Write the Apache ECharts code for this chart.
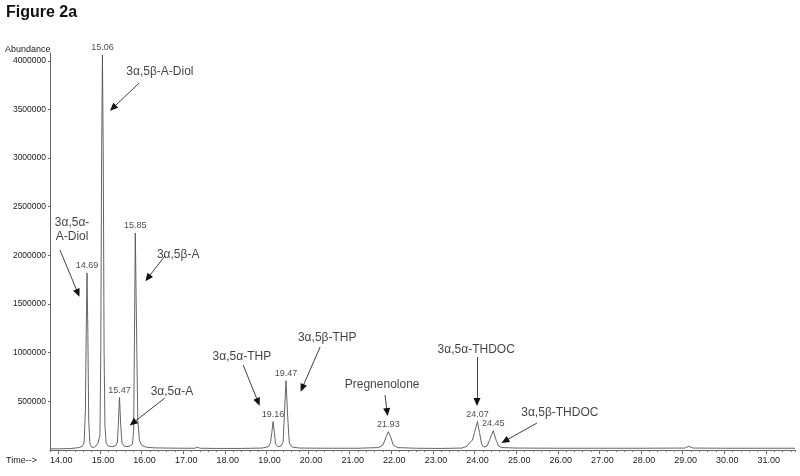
<!DOCTYPE html>
<html lang="en">
  <head>
    <meta charset="UTF-8" />
    <title>Figure 2a</title>
    <script src="https://cdn.jsdelivr.net/npm/echarts@6/dist/echarts.min.js"></script>
    <style>
      html,
      body,
      #chart {
        width: 100%;
        height: 100%;
        margin: 0;
        padding: 0;
        overflow: hidden;
        background: #fff;
      }
    </style>
  </head>
  <body>
    <div id="chart"></div>
    <script>
      // chromatogram trace (time in min, abundance)
      const traceTime = [
        13.8, 14.0, 14.3, 14.5, 14.58, 14.62, 14.65, 14.67, 14.69, 14.71,
        14.73, 14.76, 14.8, 14.85, 14.9, 14.95, 14.98, 15.0, 15.02, 15.04,
        15.06, 15.08, 15.1, 15.12, 15.15, 15.2, 15.3, 15.38, 15.42, 15.44,
        15.47, 15.5, 15.53, 15.58, 15.65, 15.72, 15.78, 15.81, 15.83, 15.85,
        15.87, 15.89, 15.91, 15.95, 16.0, 16.1, 16.3, 16.6, 17.0, 17.28,
        17.34, 17.4, 17.8, 18.4, 18.9, 19.05, 19.1, 19.13, 19.16, 19.19,
        19.22, 19.28, 19.35, 19.4, 19.43, 19.47, 19.51, 19.55, 19.62, 19.8,
        20.5, 21.2, 21.7, 21.8, 21.88, 21.93, 21.98, 22.05, 22.15, 22.6,
        23.2, 23.7, 23.82, 23.9, 23.95, 24.0, 24.07, 24.12, 24.17, 24.22,
        24.3, 24.36, 24.45, 24.52, 24.58, 24.65, 25.0, 26.0, 27.0, 28.0,
        29.05, 29.15, 29.25, 30.0, 31.0, 31.7
      ];
      const traceAbundance = [
        12000, 12000, 15000, 25000, 40000, 80000, 400000, 1200000, 1820000, 1200000,
        300000, 60000, 30000, 25000, 40000, 70000, 85000, 150000, 1000000, 3000000,
        4060000, 3000000, 1000000, 250000, 70000, 40000, 35000, 45000, 80000, 250000,
        540000, 250000, 70000, 40000, 35000, 40000, 60000, 200000, 1200000, 2230000,
        1550000, 900000, 300000, 100000, 50000, 30000, 22000, 20000, 18000, 18000,
        30000, 18000, 16000, 16000, 20000, 35000, 80000, 180000, 291000, 180000,
        60000, 35000, 40000, 80000, 350000, 713000, 350000, 70000, 30000, 20000,
        18000, 18000, 25000, 50000, 140000, 188000, 140000, 50000, 25000, 18000,
        16000, 20000, 40000, 85000, 100000, 180000, 291000, 180000, 60000, 30000,
        40000, 100000, 198000, 100000, 40000, 25000, 20000, 18000, 18000, 18000,
        20000, 38000, 20000, 18000, 18000, 18000
      ];

      // labelled peaks (retention time, apex height)
      const peakTimes = [14.69, 15.06, 15.47, 15.85, 19.16, 19.47, 21.93, 24.07, 24.45];
      const peakHeights = [1820000, 4060000, 540000, 2230000, 291000, 713000, 188000, 291000, 198000];

      // compound names and where their arrows point
      const compoundNames = [
        "3\u03b1,5\u03b2-A-Diol",
        "3\u03b1,5\u03b1-\nA-Diol",
        "3\u03b1,5\u03b2-A",
        "3\u03b1,5\u03b1-A",
        "3\u03b1,5\u03b1-THP",
        "3\u03b1,5\u03b2-THP",
        "Pregnenolone",
        "3\u03b1,5\u03b1-THDOC",
        "3\u03b1,5\u03b2-THDOC"
      ];

      const xTicks = [14, 15, 16, 17, 18, 19, 20, 21, 22, 23, 24, 25, 26, 27, 28, 29, 30, 31];
      const yTicks = [500000, 1000000, 1500000, 2000000, 2500000, 3000000, 3500000, 4000000];

      // annotation placement in data space: text centre, arrow start, arrow tip
      const notePlace = [
        { at: [16.44, 3884000], from: [15.94, 3770000], to: [15.31, 3515000] },
        { at: [14.33, 2260000], from: [14.04, 2055000], to: [14.47, 1613000] },
        { at: [16.88, 2004000], from: [16.56, 1994000], to: [16.15, 1768000] },
        { at: [16.73, 596000], from: [16.56, 534000], to: [15.79, 277000] },
        { at: [18.41, 956000], from: [18.44, 874000], to: [18.8, 493000] },
        { at: [20.46, 1151000], from: [20.29, 1059000], to: [19.86, 637000] },
        { at: [21.78, 668000], from: [21.85, 565000], to: [21.9, 390000] },
        { at: [24.04, 1028000], from: [24.06, 956000], to: [24.06, 493000] },
        { at: [26.05, 380000], from: [25.5, 277000], to: [24.73, 92500] }
      ];

      const trace = traceTime.map((t, i) => [t, traceAbundance[i]]);
      const peaks = peakTimes.map((t, i) => [t, peakHeights[i]]);
      const notes = compoundNames.map((name, i) => [notePlace[i].at[0], notePlace[i].at[1], name]);
      const arrows = notePlace.map((p) => [{ coord: p.from }, { coord: p.to }]);

      const ink = "#1a1a1a";
      const font = "Liberation Sans, Arial, sans-serif";

      const chart = echarts.init(document.getElementById("chart"));
      chart.setOption({
        animation: false,
        backgroundColor: "#fff",
        textStyle: { fontFamily: font },
        grid: { left: 50, right: 5, top: 53, bottom: 26 },
        graphic: [
          {
            type: "text",
            left: 6,
            top: 5,
            style: { text: "Figure 2a", font: "bold 16px " + font, fill: "#111" }
          },
          {
            type: "text",
            left: 5,
            top: 45,
            style: { text: "Abundance", font: "9px " + font, fill: ink }
          },
          {
            type: "text",
            left: 6,
            top: 456,
            style: { text: "Time-->", font: "9px " + font, fill: ink }
          }
        ],
        xAxis: [
          {
            type: "value",
            min: 13.8,
            max: 31.7,
            axisLine: { lineStyle: { color: "#666", width: 1 } },
            axisTick: { customValues: xTicks, length: 4, lineStyle: { color: "#666" } },
            axisLabel: {
              customValues: xTicks,
              formatter: (v) => v.toFixed(2),
              fontSize: 9,
              color: ink,
              margin: 6,
              padding: [0, 0, 0, 6]
            },
            splitLine: { show: false }
          },
          {
            type: "value",
            position: "bottom",
            min: 13.8,
            max: 31.7,
            interval: 0.2,
            axisLine: { show: false },
            axisTick: { length: 2, lineStyle: { color: "#777" } },
            axisLabel: { show: false },
            splitLine: { show: false }
          }
        ],
        yAxis: {
          type: "value",
          min: 0,
          max: 4080000,
          axisLine: { show: true, lineStyle: { color: "#666", width: 1 } },
          axisTick: { customValues: yTicks, length: 2, lineStyle: { color: "#666" } },
          axisLabel: {
            customValues: yTicks,
            formatter: (v) => String(v),
            fontSize: 8.5,
            color: ink,
            margin: 4
          },
          splitLine: { show: false }
        },
        series: [
          {
            name: "trace",
            type: "line",
            data: trace,
            symbol: "none",
            clip: false,
            lineStyle: { color: "#555", width: 0.9 },
            markLine: {
              silent: true,
              symbol: ["none", "triangle"],
              symbolSize: [7, 8],
              label: { show: false },
              lineStyle: { color: "#111", width: 0.8, type: "solid" },
              data: arrows
            }
          },
          {
            name: "peaks",
            type: "scatter",
            data: peaks,
            symbolSize: 1,
            itemStyle: { color: "transparent" },
            label: {
              show: true,
              position: "top",
              distance: 2,
              fontSize: 9,
              color: ink,
              formatter: (p) => p.value[0].toFixed(2)
            }
          },
          {
            name: "notes",
            type: "scatter",
            data: notes,
            symbolSize: 1,
            itemStyle: { color: "transparent" },
            label: {
              show: true,
              position: "inside",
              fontSize: 12,
              lineHeight: 14,
              color: "#111",
              formatter: (p) => p.value[2]
            }
          }
        ]
      });
    </script>
  </body>
</html>
